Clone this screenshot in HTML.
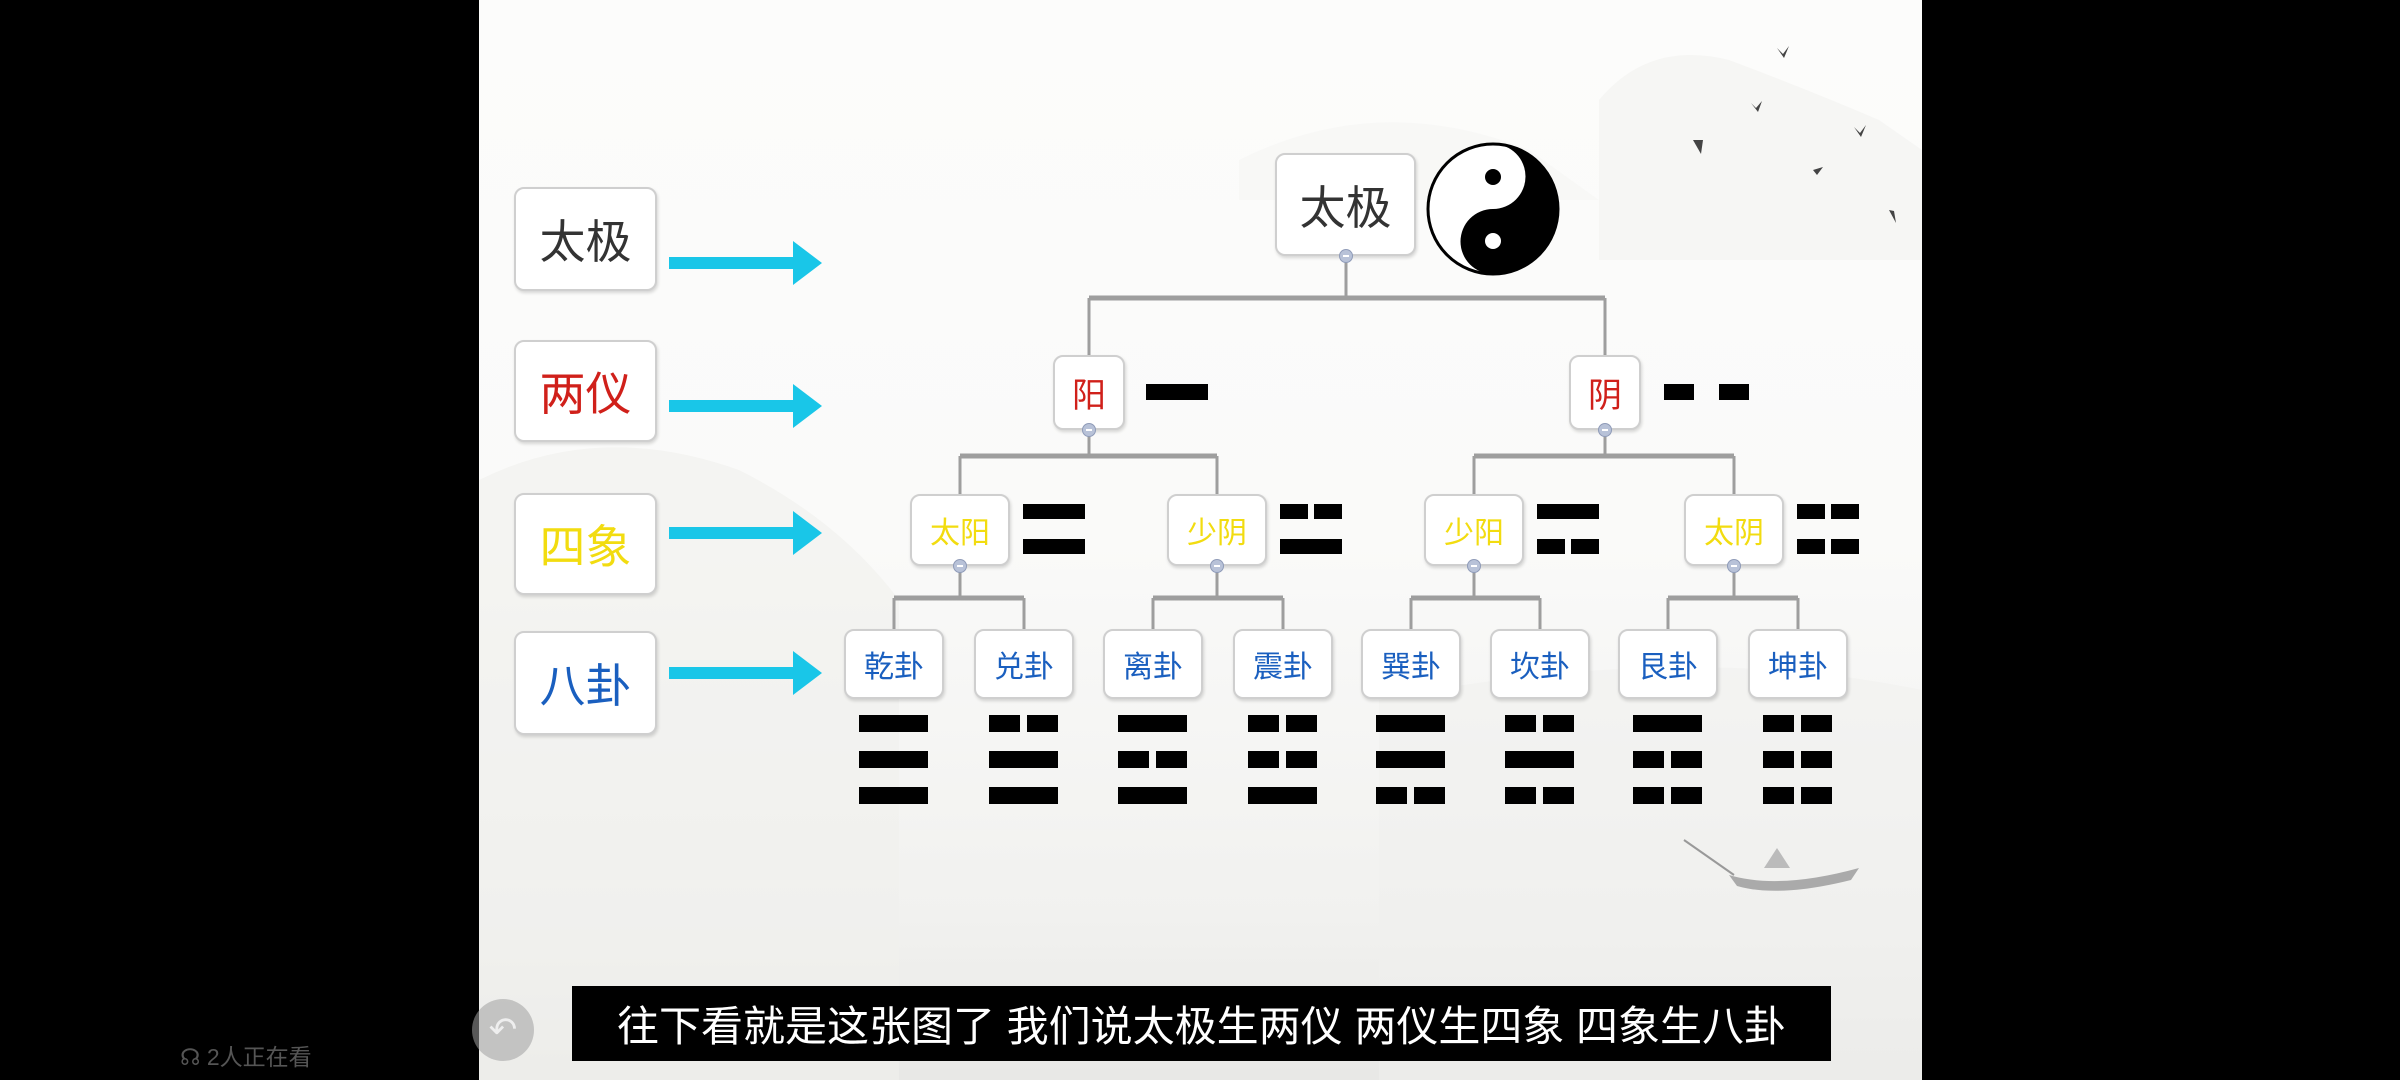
<!DOCTYPE html>
<html><head><meta charset="utf-8">
<style>
html,body{margin:0;padding:0;background:#000;}
#root{position:relative;width:2400px;height:1080px;overflow:hidden;background:#000;font-family:"Liberation Sans","Noto Sans CJK SC",sans-serif;}
#slide{position:absolute;left:479px;top:0;width:1443px;height:1080px;background:linear-gradient(180deg,#fcfcfb 0%,#fafaf9 50%,#f1f1ef 85%,#e8e8e6 100%);overflow:hidden;}
.box{position:absolute;background:#fff;border:2px solid #cfcfcf;border-radius:10px;box-shadow:1px 2px 3px rgba(0,0,0,0.15);display:flex;align-items:center;justify-content:center;box-sizing:border-box;}
.bar{position:absolute;background:#000;}
.dot{position:absolute;width:14px;height:14px;border-radius:50%;background:#b8c2d8;border:1px solid #8f9bb8;box-sizing:border-box;}
.dot:after{content:"";position:absolute;left:3px;top:5px;width:6px;height:2px;background:#fff;}
</style></head>
<body>
<div id="root">
<div id="slide">
<svg width="1443" height="1080" style="position:absolute;left:0;top:0">
<path d="M0 480 Q120 420 260 470 Q360 520 420 600 L420 1080 L0 1080Z" fill="#f0f0ed" opacity="0.6"/>
<path d="M1120 100 Q1170 40 1250 60 Q1330 90 1400 120 L1443 150 L1443 260 L1120 260Z" fill="#f6f6f4"/>
<path d="M760 160 Q900 90 1050 150 L1120 200 L760 200Z" fill="#f8f8f6"/>
<path d="M900 700 Q1200 640 1443 690 L1443 1080 L900 1080Z" fill="#f0f0ee" opacity="0.5"/>
<path d="M1250 875 Q1300 890 1380 868 L1372 880 Q1300 898 1258 886Z" fill="#aaa"/>
<path d="M1285 868 L1298 848 L1311 868Z" fill="#bbb"/>
<path d="M1205 840 L1255 875" stroke="#999" stroke-width="2"/>
<g fill="#444"><path d="M1298 48 l6 6 l6 -8 l-5 12z"/><path d="M1272 103 l5 5 l6 -7 l-4 11z"/><path d="M1375 127 l6 6 l6 -8 l-5 12z"/><path d="M1214 140 l10 0 l-2 14z"/><path d="M1334 170 l10 -3 l-6 8z"/><path d="M1410 210 l5 1 l2 12z"/></g>
</svg>
</div>

<div class="box" style="left:514px;top:187px;width:143px;height:104px;font-size:46px;color:#333">太极</div>
<div class="box" style="left:514px;top:340px;width:143px;height:102px;font-size:46px;color:#d0201a">两仪</div>
<div class="box" style="left:514px;top:493px;width:143px;height:102px;font-size:46px;color:#f2dc10">四象</div>
<div class="box" style="left:514px;top:631px;width:143px;height:104px;font-size:46px;color:#1a5fbf">八卦</div>

<svg width="2400" height="1080" style="position:absolute;left:0;top:0">
<g fill="#19c6e8">
<path d="M669 257 h124 v-16 l29 22 l-29 22 v-16 h-124z"/>
<path d="M669 400 h124 v-16 l29 22 l-29 22 v-16 h-124z"/>
<path d="M669 527 h124 v-16 l29 22 l-29 22 v-16 h-124z"/>
<path d="M669 667 h124 v-16 l29 22 l-29 22 v-16 h-124z"/>
</g>
<g id="conn" fill="none" stroke="#9e9e9e" stroke-width="3"></g>
</svg>

<div class="box" style="left:1275px;top:153px;width:141px;height:103px;font-size:46px;color:#333">太极</div>
<div class="dot" style="left:1339px;top:249px"></div>
<svg width="140" height="140" style="position:absolute;left:1423px;top:139px" viewBox="-70 -70 140 140">
<circle r="65" fill="#fff" stroke="#000" stroke-width="3"/>
<path d="M0 -65 A65 65 0 0 1 0 65 A32.5 32.5 0 0 1 0 0 A32.5 32.5 0 0 0 0 -65Z" fill="#000"/>
<circle cy="-32" r="8" fill="#000"/><circle cy="32" r="8" fill="#fff"/>
</svg>

<div id="nodes"></div>

<div style="position:absolute;left:572px;top:986px;width:1259px;height:75px;background:#000;color:#fff;font-size:42px;display:flex;align-items:center;justify-content:center;font-family:'Liberation Sans','Noto Sans CJK SC',sans-serif">往下看就是这张图了 我们说太极生两仪 两仪生四象 四象生八卦</div>
<div style="position:absolute;left:472px;top:999px;width:62px;height:62px;border-radius:50%;background:rgba(160,160,160,0.55);color:#eee;font-size:34px;display:flex;align-items:center;justify-content:center">↶</div>
<div style="position:absolute;left:180px;top:1038px;color:#555;font-size:23px">☊ 2人正在看</div>
</div>

<script>
const yiNames=["阳","阴"];
const yiLines=[[1],[0]];
const xiangNames=["太阳","少阴","少阳","太阴"];
const xiangLines=[[1,1],[0,1],[1,0],[0,0]];
const guaNames=["乾卦","兑卦","离卦","震卦","巽卦","坎卦","艮卦","坤卦"];
const guaLines=[[1,1,1],[0,1,1],[1,0,1],[0,0,1],[1,1,0],[0,1,0],[1,0,0],[0,0,0]];

const yiX=[1089,1605], xiangX=[960,1217,1474,1734], guaX=[894,1024,1153,1283,1411,1540,1668,1798];
const nodes=document.getElementById('nodes');
const conn=document.getElementById('conn');
function line(x1,y1,x2,y2,w){const p=document.createElementNS('http://www.w3.org/2000/svg','path');
p.setAttribute('d',`M${x1} ${y1} L${x2} ${y2}`);if(w)p.setAttribute('stroke-width',w);


conn.appendChild(p);}
function branch(px,py,hy,children,cy){line(px,py,px,hy);line(children[0],hy,children[children.length-1],hy,5);
children.forEach(c=>line(c,hy,c,cy));}
function node(cx,top,w,h,text,color,size,withDot){const d=document.createElement('div');d.className='box';
d.style.cssText=`left:${cx-w/2}px;top:${top}px;width:${w}px;height:${h}px;font-size:${size}px;color:${color}`;
d.textContent=text;


nodes.appendChild(d);
if(withDot){const o=document.createElement('div');o.className='dot';o.style.left=(cx-7)+'px';o.style.top=(top+h-7)+'px';


nodes.appendChild(o);}}
function bars(x,y,lines,w,h,gap,prefix,split){lines.forEach((v,i)=>{const yy=y+i*gap;
const s=split||0.45;
const parts=v?[[0,w]]:[[0,w*s],[w*(1-s),w*s]];
parts.forEach(p=>{const b=document.createElement('div');b.className='bar';
b.style.cssText=`left:${x+p[0]}px;top:${yy}px;width:${p[1]}px;height:${h}px`;


nodes.appendChild(b);});});}

branch(1346,256,298,yiX,355);
branch(yiX[0],430,456,[xiangX[0],xiangX[1]],494);
branch(yiX[1],430,456,[xiangX[2],xiangX[3]],494);
for(let i=0;i<4;i++)branch(xiangX[i],566,598,[guaX[2*i],guaX[2*i+1]],629);

yiNames.forEach((n,i)=>{node(yiX[i],355,72,75,n,'#d0201a',34,true);
const l=yiLines[i][0];
if(l)bars(yiX[i]+57,384,[1],62,16,0,'liangyi');
else bars(yiX[i]+59,384,[0],85,16,0,'liangyi',0.35);});
xiangNames.forEach((n,i)=>{node(xiangX[i],494,100,72,n,'#f2dc10',30,true);
bars(xiangX[i]+63,504,xiangLines[i],62,15,35,'sixiang');});
guaNames.forEach((n,i)=>{node(guaX[i],629,100,70,n,'#1a5fbf',30,false);
bars(guaX[i]-35,715,guaLines[i],69,17,36,'bagua');});
</script>
</body></html>
